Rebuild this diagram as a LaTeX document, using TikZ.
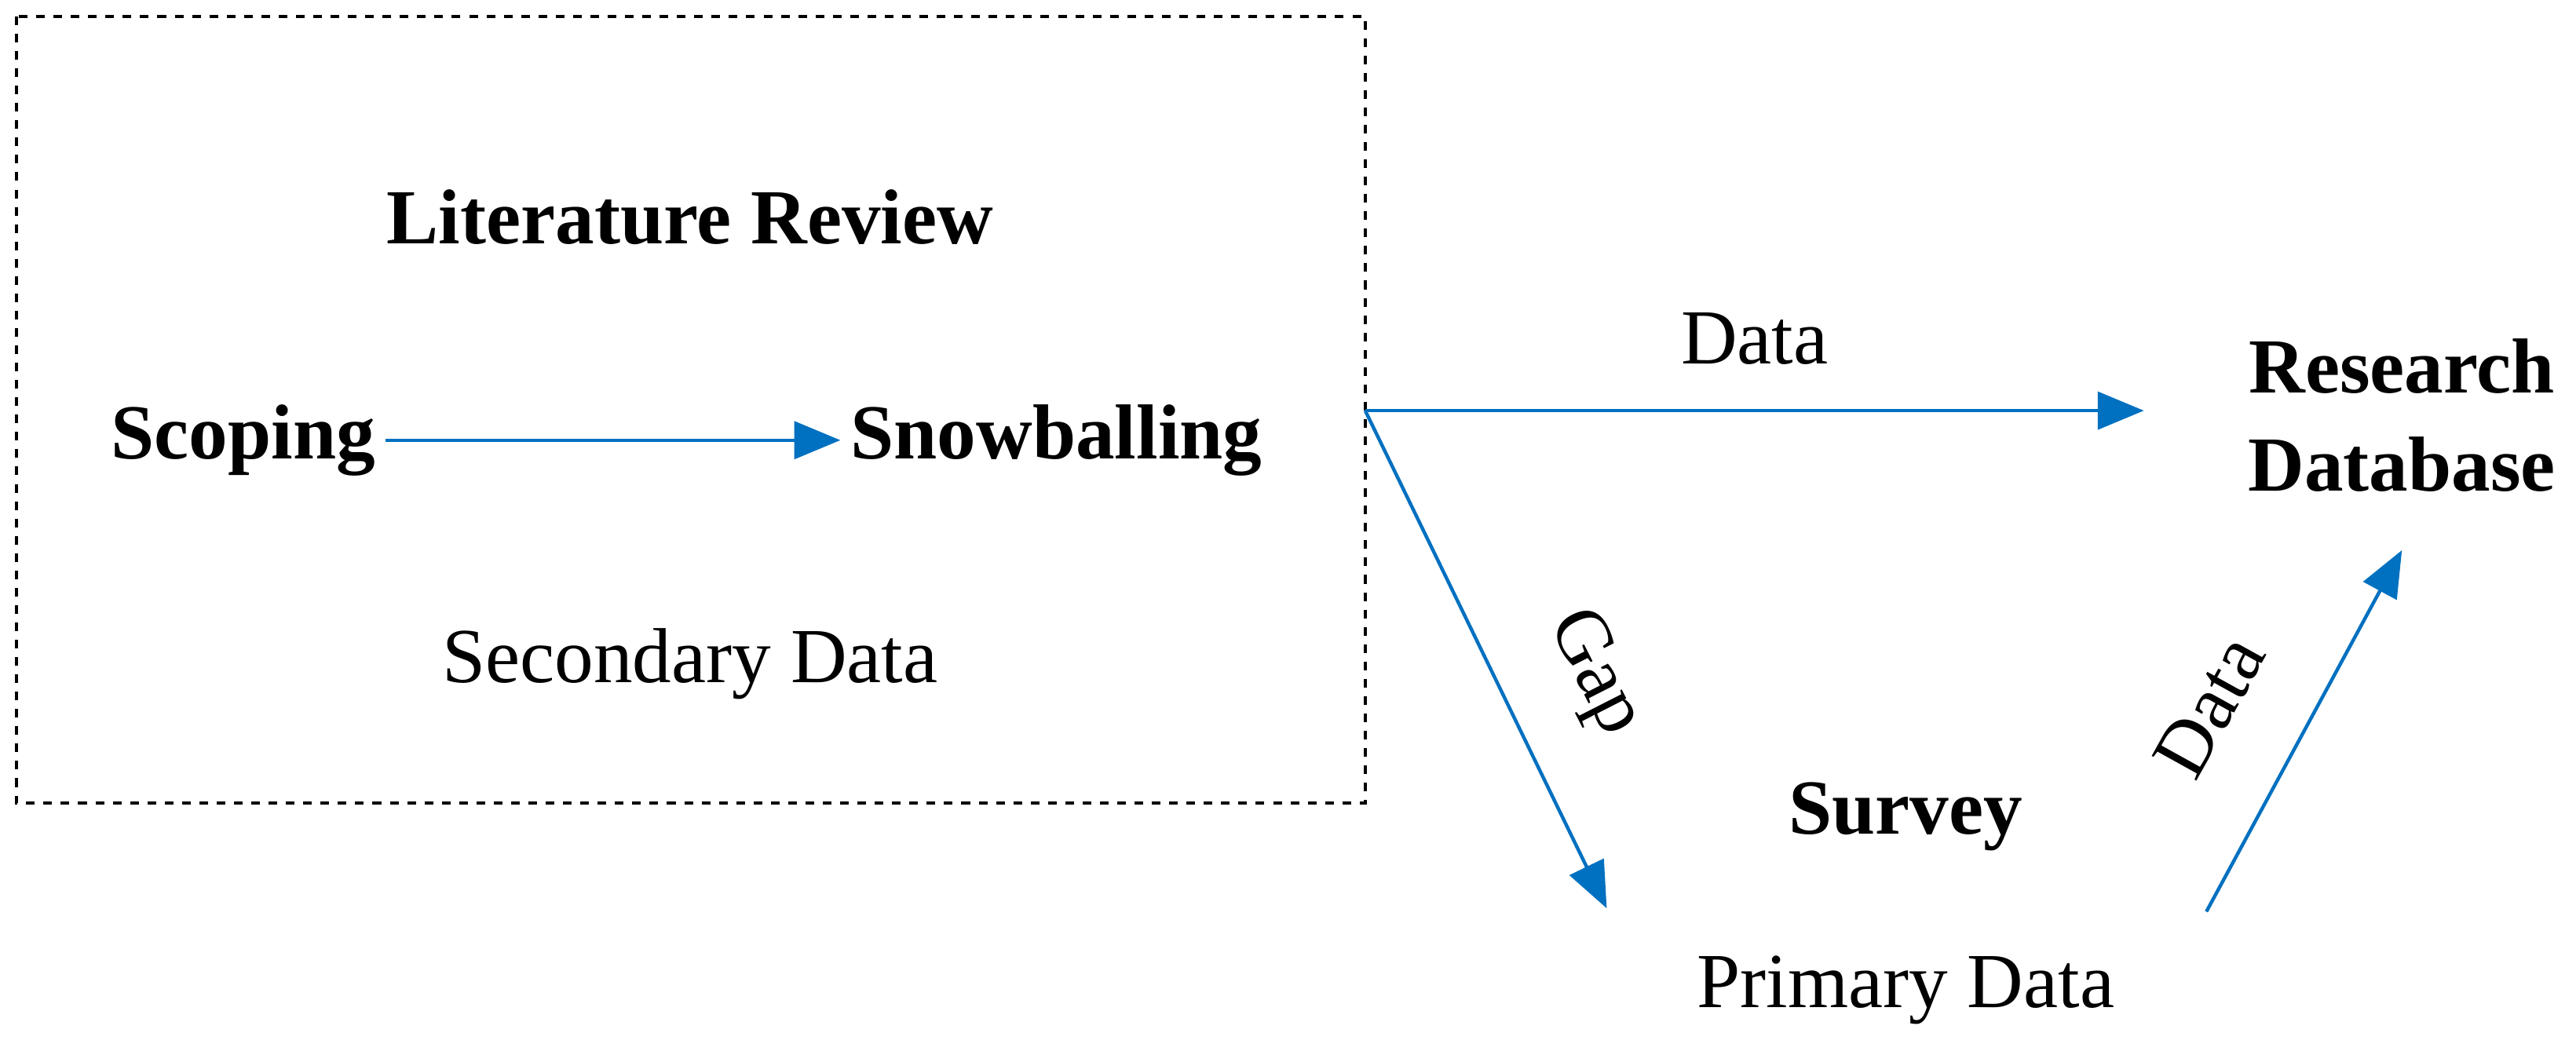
\documentclass[tikz,border=0pt]{standalone}
\usepackage{fontspec}
\setmainfont{Liberation Serif}
\usetikzlibrary{arrows.meta}
\definecolor{arr}{RGB}{0,112,192}
\begin{document}
\begin{tikzpicture}[x=0.02cm,y=-0.02cm,
  bt/.style={font=\fontsize{27}{34}\selectfont\bfseries,align=center},
  nt/.style={font=\fontsize{27}{34}\selectfont,align=center},
  ar/.style={draw=arr,line width=1.2pt,-{Triangle[length=16pt,width=13pt]}}]
\useasboundingbox (0,0) rectangle (1568,642);
\draw[dashed,line width=1pt] (10,10) rectangle (831,489);
\node[bt] (lr) at (420,132) {Literature Review};
\node[bt] (sc) at (148,268) {Scoping};
\node[bt] (sn) at (643,268) {Snowballing};
\node[nt] (sd) at (420,404) {Secondary Data};
\coordinate (o) at (831,250);
\coordinate (de) at (1305,250);
\node[bt] (rd) at (1462,253) {Research\\Database};
\node[bt] (su) at (1160,497) {Survey};
\node[nt] (pd) at (1160,603) {Primary Data};
\coordinate (ge) at (978,553);
\coordinate (ds) at (1343,555);
\coordinate (dt) at (1462,335);
\draw[ar] (sc.east) -- (sn.west);
\draw[ar] (o) -- (de) node[nt,midway,above=12pt] {Data};
\draw[ar] (o) -- (ge);
\node[nt,rotate=-63] at (970,410) {Gap};
\draw[ar] (ds) -- (dt);
\node[nt,rotate=61] at (1345,430) {Data};
\end{tikzpicture}
\end{document}
